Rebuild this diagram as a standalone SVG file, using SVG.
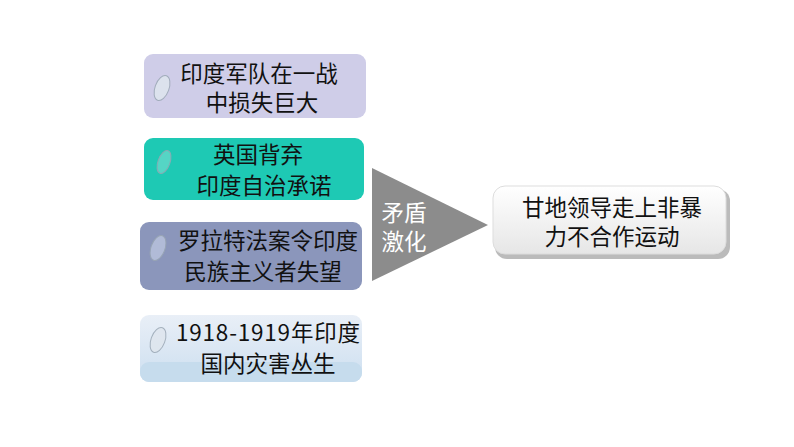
<svg xmlns="http://www.w3.org/2000/svg" width="794" height="447" viewBox="0 0 794 447">
<style>
text{font-family:"Noto Sans CJK SC","Liberation Sans",sans-serif;font-size:22.5px;fill:#111;text-anchor:middle}
.drop{fill:#dfe6ee;stroke:#9aa7b4;stroke-width:1;opacity:.85}
</style>
<defs>
<linearGradient id="g4" x1="0" y1="0" x2="0" y2="1"><stop offset="0" stop-color="#e9eff7"/><stop offset="1" stop-color="#cddff0"/></linearGradient>
<linearGradient id="gw" x1="0" y1="0" x2="0" y2="1"><stop offset="0" stop-color="#ffffff"/><stop offset="1" stop-color="#e6e6e6"/></linearGradient>
</defs>
<g id="n1"><rect x="144" y="54" width="222" height="64" rx="9" fill="#cfcde8"/><ellipse class="drop" cx="162" cy="88" rx="7" ry="13" transform="rotate(20 162 88)"/><text x="259" y="82">印度军队在一战</text><text x="262" y="111">中损失巨大</text></g>
<g id="n2"><rect x="144" y="138" width="220" height="62" rx="9" fill="#1ec9b4"/><ellipse class="drop" cx="164" cy="162" rx="6" ry="12" transform="rotate(20 164 162)" style="fill:#5fd8c8"/><text x="258" y="163">英国背弃</text><text x="264" y="194">印度自治承诺</text></g>
<g id="n3"><rect x="140" y="222" width="222" height="68" rx="9" fill="#8b96bb"/><ellipse class="drop" cx="158" cy="248" rx="7" ry="13" transform="rotate(20 158 248)" style="fill:#b8c2dc"/><text x="268" y="249">罗拉特法案令印度</text><text x="263" y="280">民族主义者失望</text></g>
<g id="n4"><rect x="140" y="315" width="222" height="67" rx="9" fill="url(#g4)"/><rect x="140" y="362" width="222" height="20" rx="9" fill="#c6dced"/><ellipse class="drop" cx="158" cy="340" rx="7" ry="13" transform="rotate(20 158 340)"/><text x="268" y="341" textLength="184">1918-1919年印度</text><text x="268" y="372">国内灾害丛生</text></g>
<g id="arrow"><polygon points="372,168 488,225 372,281" fill="#8c8c8c"/><text x="404" y="221" style="fill:#fff">矛盾</text><text x="404" y="250" style="fill:#fff">激化</text></g>
<g id="n5"><rect x="495" y="189" width="235" height="70" rx="12" fill="#bbb"/><rect x="493" y="186" width="233" height="68" rx="12" fill="url(#gw)" stroke="#ddd"/><text x="612" y="216">甘地领导走上非暴</text><text x="612" y="245">力不合作运动</text></g>
<g id="connectors"/>
</svg>
